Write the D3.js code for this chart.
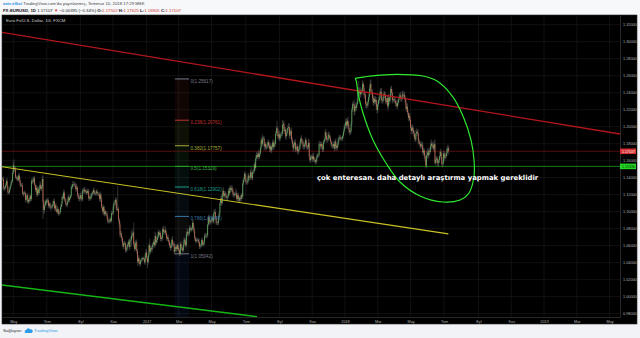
<!DOCTYPE html>
<html>
<head>
<meta charset="utf-8">
<script src="https://cdn.jsdelivr.net/npm/d3@7"></script>
<style>
  body { margin: 0; background: #f1f3f6; }
  svg { display: block; font-family: "Liberation Sans", Arial, sans-serif; }
</style>
</head>
<body>
<svg id="chart" width="640" height="338"></svg>
<script>
// ---- data ----
// daily closes EUR/USD, one row per week (Mon..Fri), from 2016-04-11 to 2018-07-10
const firstOpen = 1.1400;
const closes = [
  1.1390,1.1385,1.1275,1.1270,1.1285, 1.1315,1.1360,1.1290,1.1225,1.1225, 1.1265,1.1300,1.1335,1.1355,1.1455,
  1.1545,1.1500,1.1495,1.1405,1.1405, 1.1385,1.1375,1.1425,1.1370,1.1310, 1.1315,1.1310,1.1215,1.1205,1.1225,
  1.1220,1.1140,1.1175,1.1195,1.1115, 1.1140,1.1130,1.1185,1.1150,1.1365, 1.1355,1.1355,1.1395,1.1315,1.1255,
  1.1285,1.1200,1.1260,1.1220,1.1280, 1.1315,1.1270,1.1290,1.1385,1.1115, 1.1020,1.1070,1.1120,1.1105,1.1135,
  1.1135,1.1070,1.1095,1.1060,1.1050, 1.1060,1.1060,1.1095,1.1125,1.1040, 1.1075,1.1020,1.1000,1.1030,1.0975,
  1.0990,1.0995,1.1055,1.1085,1.1170, 1.1160,1.1225,1.1150,1.1130,1.1085, 1.1080,1.1115,1.1170,1.1135,1.1160,
  1.1185,1.1290,1.1290,1.1325,1.1325, 1.1320,1.1310,1.1265,1.1285,1.1200, 1.1190,1.1150,1.1160,1.1195,1.1155,
  1.1145,1.1250,1.1240,1.1260,1.1235, 1.1240,1.1220,1.1245,1.1240,1.1155, 1.1170,1.1155,1.1190,1.1210,1.1225,
  1.1255,1.1215,1.1215,1.1220,1.1240, 1.1210,1.1205,1.1205,1.1150,1.1200, 1.1140,1.1050,1.1005,1.1055,1.0970,
  1.1000,1.0975,1.0980,1.0930,1.0885, 1.0885,1.0885,1.0915,1.0895,1.0985, 1.0980,1.1055,1.1100,1.1105,1.1140,
  1.1040,1.1020,1.1030,1.0905,1.0850, 1.0730,1.0740,1.0690,1.0625,1.0590, 1.0630,1.0630,1.0550,1.0545,1.0590,
  1.0615,1.0645,1.0585,1.0665,1.0665, 1.0720,1.0720,1.0755,1.0615,1.0560, 1.0630,1.0640,1.0535,1.0415,1.0450,
  1.0400,1.0385,1.0425,1.0435,1.0455, 1.0455,1.0445,1.0405,1.0490,1.0520,
  1.0455,1.0405,1.0490,1.0605,1.0530, 1.0570,1.0555,1.0585,1.0615,1.0645, 1.0605,1.0715,1.0640,1.0665,1.0700,
  1.0760,1.0730,1.0750,1.0680,1.0695, 1.0690,1.0795,1.0760,1.0760,1.0785, 1.0750,1.0685,1.0700,1.0670,1.0640,
  1.0600,1.0575,1.0610,1.0670,1.0615, 1.0620,1.0530,1.0560,1.0585,1.0560, 1.0605,1.0575,1.0545,1.0505,1.0620,
  1.0580,1.0565,1.0545,1.0610,1.0670, 1.0655,1.0605,1.0735,1.0765,1.0740, 1.0745,1.0810,1.0795,1.0785,1.0800,
  1.0870,1.0815,1.0770,1.0685,1.0655, 1.0665,1.0670,1.0665,1.0645,1.0590, 1.0600,1.0605,1.0665,1.0615,1.0615,
  1.0645,1.0720,1.0715,1.0715,1.0725, 1.0850,1.0935,1.0880,1.0875,1.0895, 1.0905,1.0930,1.0885,1.0985,1.0995,
  1.0930,1.0870,1.0870,1.0865,1.0935, 1.0980,1.1100,1.1155,1.1100,1.1205, 1.1245,1.1185,1.1215,1.1205,1.1165,
  1.1165,1.1180,1.1245,1.1215,1.1280, 1.1255,1.1275,1.1260,1.1210,1.1195, 1.1210,1.1210,1.1215,1.1150,1.1195,
  1.1150,1.1130,1.1165,1.1150,1.1195, 1.1180,1.1335,1.1375,1.1445,1.1425, 1.1350,1.1345,1.1355,1.1425,1.1400,
  1.1400,1.1465,1.1410,1.1395,1.1470, 1.1475,1.1555,1.1515,1.1630,1.1665, 1.1645,1.1685,1.1645,1.1680,1.1750,
  1.1840,1.1800,1.1860,1.1860,1.1770, 1.1795,1.1755,1.1765,1.1775,1.1820, 1.1780,1.1735,1.1770,1.1720,1.1760,
  1.1815,1.1760,1.1805,1.1800,1.1920, 1.1980,1.1975,1.1885,1.1910,1.1860, 1.1890,1.1915,1.1920,1.2020,1.2035,
  1.1950,1.1965,1.1885,1.1920,1.1945, 1.1985,1.1995,1.1895,1.1940,1.1950, 1.1845,1.1795,1.1745,1.1785,1.1815,
  1.1730,1.1745,1.1765,1.1710,1.1730, 1.1745,1.1805,1.1860,1.1830,1.1820, 1.1765,1.1765,1.1790,1.1845,1.1785,
  1.1760,1.1760,1.1810,1.1655,1.1605, 1.1635,1.1645,1.1620,1.1655,1.1610, 1.1610,1.1585,1.1595,1.1650,1.1665,
  1.1665,1.1795,1.1795,1.1770,1.1795, 1.1735,1.1735,1.1825,1.1850,1.1935, 1.1895,1.1845,1.1850,1.1905,1.1895,
  1.1865,1.1825,1.1795,1.1770,1.1770, 1.1795,1.1745,1.1825,1.1775,1.1750, 1.1785,1.1835,1.1870,1.1875,1.1860,
  1.1860,1.1860,1.1890,1.1945,1.2005,
  1.2010,1.2060,1.2015,1.2070,1.2030, 1.1965,1.1935,1.1945,1.2035,1.2200, 1.2265,1.2260,1.2180,1.2235,1.2220,
  1.2260,1.2300,1.2410,1.2395,1.2430, 1.2380,1.2410,1.2415,1.2505,1.2460, 1.2370,1.2375,1.2270,1.2250,1.2250,
  1.2290,1.2350,1.2450,1.2505,1.2405, 1.2405,1.2335,1.2280,1.2330,1.2295, 1.2315,1.2235,1.2195,1.2265,1.2315,
  1.2335,1.2410,1.2410,1.2310,1.2305, 1.2335,1.2390,1.2370,1.2305,1.2290, 1.2335,1.2240,1.2340,1.2300,1.2355,
  1.2445,1.2400,1.2310,1.2325,1.2320, 1.2305,1.2275,1.2275,1.2240,1.2280, 1.2320,1.2365,1.2370,1.2325,1.2330,
  1.2380,1.2370,1.2375,1.2345,1.2290, 1.2210,1.2235,1.2165,1.2105,1.2130, 1.2080,1.1990,1.1950,1.1990,1.1960,
  1.1925,1.1865,1.1850,1.1920,1.1940, 1.1925,1.1835,1.1810,1.1795,1.1770, 1.1790,1.1780,1.1695,1.1720,1.1655,
  1.1625,1.1540,1.1665,1.1695,1.1660, 1.1715,1.1705,1.1775,1.1800,1.1770, 1.1780,1.1745,1.1795,1.1570,1.1610,
  1.1625,1.1575,1.1570,1.1605,1.1655, 1.1700,1.1645,1.1560,1.1570,1.1685, 1.1635,1.1660,1.1655,1.1690,1.1745,
  1.1750,1.1711
];
// wick beyond the candle body, in pips (0.0001)
const wickUp = [
  25,18,30,22,15, 20,28,35,18,24, 22,15,40,26,30, 45,71,20,30,18, 22,28,20,35,25, 18,25,30,15,20,
  22,15,20,25,18, 20,25,30,18,25, 40,22,25,30,20, 25,30,35,28,20, 45,30,25,42,42, 30,25,20,28,22,
  25,30,20,22,40, 20,25,35,30,28, 22,30,25,40,20, 20,25,30,35,22, 40,35,30,25,30, 20,30,25,35,22,
  20,30,25,40,20, 35,25,30,40,22, 20,25,30,25,40, 20,28,30,35,25, 22,20,25,18,30, 20,25,30,28,22,
  25,30,20,22,25, 25,20,22,25,40, 20,25,22,30,20, 25,20,30,25,22, 20,25,22,28,30, 20,30,25,35,30,
  25,60,270,30,25, 40,35,30,25,20, 25,30,20,15,25, 30,25,35,30,40, 60,30,40,120,30, 30,35,30,30,40,
  25,30,20,18,20, 15,15,20,25,45,
  30,25,20,30,80, 30,25,40,25,30, 30,50,30,35,25, 20,30,25,25,30, 25,30,40,30,50, 30,20,25,30,22,
  25,30,25,30,45, 25,30,20,35,25, 20,25,30,20,25, 30,25,20,40,35, 25,30,25,40,30, 20,35,25,30,25,
  36,30,25,20,25, 30,25,20,25,35, 20,25,30,25,20, 25,30,25,35,20, 87,25,30,20,25, 30,25,30,35,30,
  40,20,25,20,25, 20,30,30,35,20, 43,30,25,30,25, 20,25,30,35,30, 25,30,40,25,30, 20,25,60,30,25,
  30,25,20,30,22, 30,40,30,25,30, 25,30,40,30,30, 25,30,60,30,25, 30,25,35,40,40, 30,25,45,30,25,
  30,40,50,30,30, 30,25,35,30,25, 30,40,30,35,25, 25,40,30,30,30, 30,90,25,30,40, 30,25,30,57,40,
  30,35,30,40,40, 30,50,40,25,30, 40,30,25,40,30, 40,25,30,25,40, 30,35,25,40,30, 30,25,30,35,25,
  30,25,50,40,25, 30,25,30,35,40, 30,25,20,30,25, 20,40,30,30,25, 30,40,30,30,30, 40,30,25,40,30,
  30,25,20,25,30, 30,40,30,35,25, 30,30,30,25,30, 20,25,30,30,25,
  30,30,40,30,50, 30,25,40,30,30, 30,30,60,40,40, 30,40,50,127,30, 40,40,30,40,30, 30,40,40,30,40,
  30,40,30,51,50, 30,40,40,30,30, 40,30,30,30,35, 40,40,40,45,40, 30,30,30,40,30, 30,40,50,30,30,
  30,35,40,30,25, 30,35,40,30,40, 30,30,30,40,30, 40,45,30,40,30, 30,30,40,30,30, 30,30,30,40,30,
  30,30,40,40,40, 30,40,35,30,30, 40,30,40,30,30, 40,30,50,50,40, 40,30,40,50,40, 30,40,40,57,30,
  30,30,40,30,50, 40,30,40,30,30, 30,40,30,50,30, 40,25
];
const wickDown = [
  20,25,18,22,30, 22,18,25,30,20, 20,25,18,22,15, 20,30,25,18,30, 25,20,22,30,25, 20,22,15,25,30,
  20,35,25,20,22, 25,30,20,25,22, 30,25,20,22,30, 25,30,22,30,25, 20,25,30,22,203, 50,30,25,20,25,
  30,25,35,20,45, 25,30,20,22,25, 30,25,20,25,22, 25,20,22,30,25, 25,20,30,22,25, 25,30,20,22,30,
  20,25,30,22,30, 25,20,30,25,35, 22,25,30,20,35, 20,25,30,22,25, 25,20,22,25,30, 25,20,22,30,25,
  20,25,22,30,25, 22,20,25,30,35, 25,22,30,20,25, 22,25,20,30,25, 20,22,25,20,25, 25,20,30,22,30,
  20,25,10,30,40, 40,30,35,25,30, 25,20,35,20,25, 30,25,40,25,30, 70,30,25,30,25, 25,30,35,48,25,
  30,33,25,20,25, 20,25,25,30,20,
  25,65,30,30,25, 30,25,40,30,25, 30,25,30,25,30, 25,30,25,30,25, 50,25,30,25,30, 30,25,30,25,30,
  25,30,35,25,30, 25,30,36,25,30, 25,30,25,30,25, 25,30,25,20,25, 30,25,25,30,25, 25,30,25,30,20,
  25,30,25,30,25, 25,30,25,30,30, 30,25,20,25,20, 25,30,25,30,25, 30,25,30,25,30, 25,30,25,30,25,
  30,25,30,25,25, 25,30,25,30,25, 30,25,30,25,30, 25,30,25,30,25, 30,25,30,35,30, 25,30,30,25,30,
  30,25,30,25,30, 25,30,30,25,30, 30,25,30,25,30, 30,25,30,25,30, 25,30,30,25,30, 30,25,30,25,30,
  30,25,30,25,50, 30,35,30,25,30, 30,35,30,25,30, 30,25,30,35,30, 30,25,30,40,30, 30,25,30,30,40,
  30,35,30,40,30, 30,25,30,40,30, 30,35,40,30,25, 30,35,30,40,35, 30,25,30,35,30, 30,35,30,25,40,
  30,35,25,30,30, 30,25,30,35,30, 30,31,25,30,25, 30,25,30,35,25, 30,35,30,25,30, 30,35,30,25,30,
  30,35,30,25,30, 30,35,30,40,30, 30,25,30,25,30, 25,25,30,25,25,
  30,35,30,40,30, 40,35,30,30,30, 30,40,50,40,35, 30,35,30,40,30, 40,35,30,30,40, 40,40,50,40,30,
  30,30,40,30,30, 30,40,30,35,30, 30,30,40,35,30, 40,40,30,30,40, 30,35,30,40,30, 30,40,30,40,30,
  30,35,40,30,30, 30,35,40,30,30, 30,30,35,30,30, 30,35,30,30,35, 30,35,30,40,35, 30,30,40,30,50,
  40,30,30,30,30, 30,40,30,35,30, 30,40,30,35,40, 40,30,30,40,35, 30,35,30,30,40, 30,30,40,7,30,
  30,40,30,45,30, 30,35,30,40,30, 30,40,30,30,35, 30,40
];

const priceTicks = [0.98,1.00,1.02,1.04,1.06,1.08,1.10,1.12,1.14,1.16,1.18,1.20,1.22,1.24,1.26,1.28,1.30,1.32];
const timeTickDates = ["2016-05-01","2016-07-01","2016-09-01","2016-11-01","2017-01-01","2017-03-01","2017-05-01",
  "2017-07-01","2017-09-01","2017-11-01","2018-01-01","2018-03-01","2018-05-01","2018-07-01","2018-09-01",
  "2018-11-01","2019-01-01","2019-03-01","2019-05-01"];
const timeTickLabels = ["May","Tem","Eyl","Kas","2017","Mar","May","Tem","Eyl","Kas","2018","Mar","May","Tem","Eyl","Kas","2019","Mar","May"];

// fibonacci retracement
const fibHigh = 1.25617, fibLow = 1.05042;
const fibRatios = [0, 0.236, 0.382, 0.5, 0.618, 0.786, 1, 1.618];
const fibColors = ["#787b86","#c0322e","#a9ad3a","#3fae3f","#1f9e8c","#3a78a8","#787b86","#2a55c8"];
const fibBars = [227, 245.5];

// drawings, anchored at [bar, price]
const redLine = [[0, 1.3111], [810.6, 1.1914]];
const yellowLine = [[0, 1.1529], [585.5, 1.0738]];
const greenLine = [[0, 1.0138], [334.6, 0.9765]];
const supportLevel = 1.15330;
const lastPrice = 1.17107;
const ellipseBars = [463.1,464.5,467.1,473.6,486.7,503.7,522.1,548.3,578.5,600.8,612.6,619.2,619.2,615.2,604.7,591.6,570.7,552.3,518.2,482.8,463.1];
const ellipsePrices = [1.2569,1.2549,1.2396,1.2161,1.1844,1.1573,1.1349,1.1185,1.1114,1.1138,1.1220,1.1420,1.1608,1.1844,1.2126,1.2349,1.2537,1.2596,1.2616,1.2596,1.2569];
const note = {bar: 413.3, price: 1.1367, text: "çok enteresan. daha detaylı araştırma yapmak gereklidir"};

// ---- layout ----
const W = 640, H = 338;
const plot = {left: 2, right: 620, top: 15, bottom: 317};
const frame = {left: 2, right: 637, top: 15, bottom: 324};

const svg = d3.select("#chart");

// trading calendar (weekdays)
const calendar = d3.timeDay.range(new Date(2016, 3, 11), new Date(2019, 5, 1)).filter(d => d.getDay() % 6 !== 0);
const barOf = s => d3.bisectLeft(calendar, d3.timeParse("%Y-%m-%d")(s));

const x = d3.scaleLinear().domain([0.25, 810.6]).range([plot.left, plot.right]);
const y = d3.scaleLinear().domain([0.9761, 1.3314]).range([plot.bottom, plot.top]);

// candles
const n = Math.min(closes.length, wickUp.length, wickDown.length);
const candles = d3.range(n).map(i => {
  const o = i === 0 ? firstOpen : closes[i - 1];
  const c = closes[i];
  return {i, o, c, h: Math.max(o, c) + wickUp[i] / 10000, l: Math.min(o, c) - wickDown[i] / 10000};
});

// background
svg.append("rect").attr("width", W).attr("height", H).attr("fill", "#f1f3f6");
svg.append("rect").attr("width", W).attr("height", frame.top).attr("fill", "#f7f8fa");
svg.append("rect")
  .attr("x", frame.left).attr("y", frame.top)
  .attr("width", frame.right - frame.left).attr("height", frame.bottom - frame.top)
  .attr("fill", "#000").attr("stroke", "#2a2a2a").attr("stroke-width", 0.6);

svg.append("clipPath").attr("id", "clip").append("rect")
  .attr("x", plot.left).attr("y", plot.top)
  .attr("width", plot.right - plot.left).attr("height", plot.bottom - plot.top);

// grid
const tickBars = timeTickDates.map(barOf);
const grid = svg.append("g").attr("stroke", "#1c1c1c").attr("stroke-width", 0.6);
grid.selectAll(".gx").data(tickBars).join("line")
  .attr("x1", d => x(d)).attr("x2", d => x(d)).attr("y1", plot.top).attr("y2", plot.bottom);
grid.selectAll(".gy").data(priceTicks).join("line")
  .attr("x1", plot.left).attr("x2", plot.right).attr("y1", d => y(d)).attr("y2", d => y(d));

const g = svg.append("g").attr("clip-path", "url(#clip)");

// fibonacci bands
const fibPrice = r => fibHigh - r * (fibHigh - fibLow);
const fib = g.append("g");
fib.selectAll("rect").data(fibRatios.slice(1)).join("rect")
  .attr("x", x(fibBars[0])).attr("width", x(fibBars[1]) - x(fibBars[0]))
  .attr("y", (d, k) => y(fibPrice(fibRatios[k])))
  .attr("height", (d, k) => y(fibPrice(d)) - y(fibPrice(fibRatios[k])))
  .attr("fill", (d, k) => fibColors[k + 1]).attr("opacity", 0.09);
fib.selectAll("line").data(fibRatios.slice(0, 7)).join("line")
  .attr("x1", x(fibBars[0])).attr("x2", x(fibBars[1]))
  .attr("y1", d => y(fibPrice(d))).attr("y2", d => y(fibPrice(d)))
  .attr("stroke", (d, k) => fibColors[k]).attr("stroke-width", 1);

// horizontal levels
g.append("line").attr("x1", plot.left).attr("x2", plot.right)
  .attr("y1", y(lastPrice)).attr("y2", y(lastPrice)).attr("stroke", "#6a1212").attr("stroke-width", 0.8);
g.append("line").attr("x1", plot.left).attr("x2", plot.right)
  .attr("y1", y(supportLevel)).attr("y2", y(supportLevel)).attr("stroke", "#1c9a1c").attr("stroke-width", 0.8);

// candles
const bodyW = 0.6;
g.append("g").attr("stroke", "#8a8a8a").attr("stroke-width", 0.35)
  .selectAll("line").data(candles).join("line")
  .attr("x1", d => x(d.i)).attr("x2", d => x(d.i))
  .attr("y1", d => y(d.h)).attr("y2", d => y(d.l));
g.append("g").selectAll("rect").data(candles).join("rect")
  .attr("x", d => x(d.i) - bodyW / 2).attr("width", bodyW)
  .attr("y", d => y(Math.max(d.o, d.c)))
  .attr("height", d => Math.max(0.4, Math.abs(y(d.o) - y(d.c))))
  .attr("fill", d => d.c >= d.o ? "#6cd36c" : "#f2845f");

// trend lines
const seg = d3.line().x(d => x(d[0])).y(d => y(d[1]));
g.append("path").attr("d", seg(redLine)).attr("stroke", "#b3161b").attr("stroke-width", 1.3).attr("fill", "none");
g.append("path").attr("d", seg(yellowLine)).attr("stroke", "#c9c124").attr("stroke-width", 1.2).attr("fill", "none");
g.append("path").attr("d", seg(greenLine)).attr("stroke", "#17b517").attr("stroke-width", 1.4).attr("fill", "none");

// ellipse-like drawing
const loop = d3.line().curve(d3.curveCatmullRom).x(d => x(d[0])).y(d => y(d[1]));
g.append("path").attr("d", loop(ellipseBars.map((b, k) => [b, ellipsePrices[k]])))
  .attr("stroke", "#2ee82e").attr("stroke-width", 1.2).attr("fill", "none");

// note
g.append("text").attr("x", x(note.bar)).attr("y", y(note.price))
  .attr("fill", "#fff").attr("font-weight", "bold").attr("font-size", 6.9)
  .attr("font-family", "'DejaVu Sans', sans-serif").text(note.text);

// fib labels
const fmt5 = d3.format(".5f");
svg.append("g").selectAll("text").data(fibRatios.slice(0, 7)).join("text")
  .attr("x", x(fibBars[1]) + 1.5).attr("y", d => y(fibPrice(d)) + 4)
  .attr("fill", (d, k) => fibColors[k]).attr("font-size", 4.6)
  .text(d => `${d}(${fmt5(fibPrice(d))})`);

// axes
const yAxis = svg.append("g").attr("transform", `translate(${plot.right},0)`)
  .call(d3.axisRight(y).tickValues(priceTicks).tickFormat(fmt5).tickSize(0).tickPadding(3));
const xAxis = svg.append("g").attr("transform", `translate(0,${plot.bottom})`)
  .call(d3.axisBottom(x).tickValues(tickBars).tickFormat((d, k) => timeTickLabels[k]).tickSize(0).tickPadding(3));
[yAxis, xAxis].forEach(a => {
  a.select(".domain").attr("stroke", "#3a3a3a").attr("stroke-width", 0.7);
  a.selectAll("text").attr("fill", "#b0b0b0").attr("font-size", 3.8)
    .attr("font-family", "'Liberation Sans', Arial, sans-serif");
});

// price tags
const tags = [
  {v: lastPrice, bg: "#d32f2f", fg: "#fff"},
  {v: supportLevel, bg: "#22d622", fg: "#0b2a0b"}
];
const tg = svg.append("g").selectAll("g").data(tags).join("g")
  .attr("transform", d => `translate(${plot.right},${y(d.v)})`);
tg.append("rect").attr("x", 0).attr("y", -2.8).attr("width", 16).attr("height", 5.6).attr("fill", d => d.bg);
tg.append("text").attr("x", 2).attr("y", 1.3).attr("font-size", 3.6).attr("fill", d => d.fg).text(d => fmt5(d.v));

// legend inside chart
svg.append("text").attr("x", 6).attr("y", 22.4).attr("fill", "#cfcfcf").attr("font-size", 4.3)
  .text("Euro Fx/U.S. Dollar, 1G, FXCM");

// header
const h1 = svg.append("text").attr("x", 3).attr("y", 5).attr("font-size", 4.3).attr("fill", "#444");
h1.append("tspan").attr("fill", "#2f8fe0").attr("font-weight", "bold").text("aziz.elliot");
h1.append("tspan").text(" TradingView.com'da yayınlanmış, Temmuz 10, 2018 17:29 MSK");

const h2 = svg.append("text").attr("x", 3).attr("y", 11.6).attr("font-size", 4.3).attr("fill", "#222");
[
  ["FX:EURUSD, 1D ", "#111", "bold"], ["1.17107 ", "#222"], ["▼ ", "#d32f2f"], ["−0.00395 (−0.34%) ", "#222"],
  ["O:", "#111", "bold"], ["1.17502 ", "#d32f2f"], ["H:", "#111", "bold"], ["1.17625 ", "#d32f2f"],
  ["L:", "#111", "bold"], ["1.16905 ", "#d32f2f"], ["C:", "#111", "bold"], ["1.17107", "#d32f2f"]
].forEach(([t, c, w]) => h2.append("tspan").attr("fill", c).attr("font-weight", w || "normal").text(t));

// footer
svg.append("text").attr("x", 3).attr("y", 332.2).attr("font-size", 4.3).attr("fill", "#333").text("Sağlayan:");
svg.append("path")
  .attr("d", "M25.5,333 a1.6,1.6 0 0 1 0.6,-3 a2.2,2.2 0 0 1 4,-0.6 a1.6,1.6 0 0 1 1.4,3.6 z")
  .attr("fill", "#2f9be8");
svg.append("text").attr("x", 34).attr("y", 332.2).attr("font-size", 4.3).attr("fill", "#2f9be8").text("TradingView");
</script>
</body>
</html>
